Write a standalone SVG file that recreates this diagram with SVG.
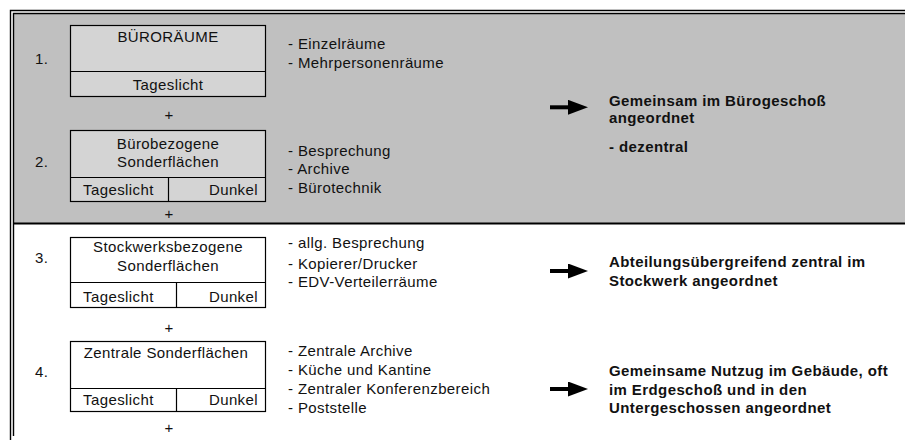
<svg xmlns="http://www.w3.org/2000/svg" width="905" height="440" viewBox="0 0 905 440">
<defs>
<marker id="ah" markerUnits="userSpaceOnUse" markerWidth="20" markerHeight="16" refX="0" refY="7.5" orient="auto">
<path d="M0,0 L20,7.5 L0,15 z" fill="#000"/>
</marker>
</defs>
<style>
text{font-family:"Liberation Sans",Arial,sans-serif;font-size:15px;fill:#111;letter-spacing:0.4px}
.b{font-weight:bold;letter-spacing:0.4px}
.c{text-anchor:middle}
.r{text-anchor:end}
.box{fill:#d4d4d4;stroke:#000;stroke-width:1.2}
.wbox{fill:#fff;stroke:#000;stroke-width:1.2}
.ln{stroke:#000;stroke-width:1.2;fill:none}
.fr{stroke:#000;stroke-width:1.4;fill:none}
.arr{stroke:#000;stroke-width:4;marker-end:url(#ah)}
</style>
<rect width="905" height="440" fill="#fff"/>
<rect x="13" y="13" width="892" height="211" fill="#c0c0c0"/>
<g id="frame">
<path class="fr" d="M905,10.5 H10.5 V440"/>
<path class="fr" d="M905,13.5 H13.5 V436"/>
<path d="M13,223.5 H905" stroke="#000" stroke-width="2"/>
</g>
<g id="n1">
<text x="35" y="64">1.</text>
<rect class="box" x="70.5" y="25.5" width="195" height="71"/>
<line class="ln" x1="70.5" y1="71.5" x2="265.5" y2="71.5"/>
<text class="c" x="168" y="42">BÜRORÄUME</text>
<text class="c" x="168" y="90">Tageslicht</text>
<text x="288" y="49">- Einzelräume</text>
<text x="288" y="68">- Mehrpersonenräume</text>
</g>
<text class="c" x="169" y="120">+</text>
<g id="n2">
<text x="35" y="167">2.</text>
<rect class="box" x="70.5" y="130.5" width="195" height="71"/>
<line class="ln" x1="70.5" y1="177.5" x2="265.5" y2="177.5"/>
<line class="ln" x1="168.5" y1="177.5" x2="168.5" y2="201.5"/>
<text class="c" x="168" y="149">Bürobezogene</text>
<text class="c" x="168" y="167">Sonderflächen</text>
<text x="83" y="195">Tageslicht</text>
<text class="r" x="258" y="195">Dunkel</text>
<text x="288" y="156">- Besprechung</text>
<text x="288" y="174">- Archive</text>
<text x="288" y="193">- Bürotechnik</text>
</g>
<text class="c" x="169" y="219">+</text>
<g id="r1">
<text class="b" x="609" y="106">Gemeinsam im Bürogeschoß</text>
<text class="b" x="609" y="123">angeordnet</text>
<text class="b" x="609" y="152">- dezentral</text>
</g>
<g id="n3">
<text x="35" y="263">3.</text>
<rect class="wbox" x="70.5" y="237.5" width="195" height="70"/>
<line class="ln" x1="70.5" y1="282.5" x2="265.5" y2="282.5"/>
<line class="ln" x1="176.5" y1="282.5" x2="176.5" y2="307.5"/>
<text class="c" x="168" y="252">Stockwerksbezogene</text>
<text class="c" x="168" y="271">Sonderflächen</text>
<text x="83" y="302">Tageslicht</text>
<text class="r" x="258" y="302">Dunkel</text>
<text x="288" y="248">- allg. Besprechung</text>
<text x="288" y="269">- Kopierer/Drucker</text>
<text x="288" y="287">- EDV-Verteilerräume</text>
</g>
<text class="c" x="169" y="333">+</text>
<g id="r3">
<text class="b" x="609" y="267">Abteilungsübergreifend zentral im</text>
<text class="b" x="609" y="286">Stockwerk angeordnet</text>
</g>
<g id="n4">
<text x="35" y="377">4.</text>
<rect class="wbox" x="70.5" y="341.5" width="195" height="70"/>
<line class="ln" x1="70.5" y1="388.5" x2="265.5" y2="388.5"/>
<line class="ln" x1="176.5" y1="388.5" x2="176.5" y2="411.5"/>
<text class="c" x="166" y="358">Zentrale Sonderflächen</text>
<text x="83" y="405">Tageslicht</text>
<text class="r" x="258" y="405">Dunkel</text>
<text x="288" y="356">- Zentrale Archive</text>
<text x="288" y="375">- Küche und Kantine</text>
<text x="288" y="394">- Zentraler Konferenzbereich</text>
<text x="288" y="413">- Poststelle</text>
</g>
<text class="c" x="169" y="433">+</text>
<g id="r4">
<text class="b" x="609" y="376">Gemeinsame Nutzug im Gebäude, oft</text>
<text class="b" x="609" y="395">im Erdgeschoß und in den</text>
<text class="b" x="609" y="413">Untergeschossen angeordnet</text>
</g>
<g id="connectors">
<line class="arr" x1="550" y1="107.3" x2="568" y2="107.3"/>
<line class="arr" x1="550" y1="271" x2="568" y2="271"/>
<line class="arr" x1="550" y1="389" x2="568" y2="389"/>
</g>
</svg>
